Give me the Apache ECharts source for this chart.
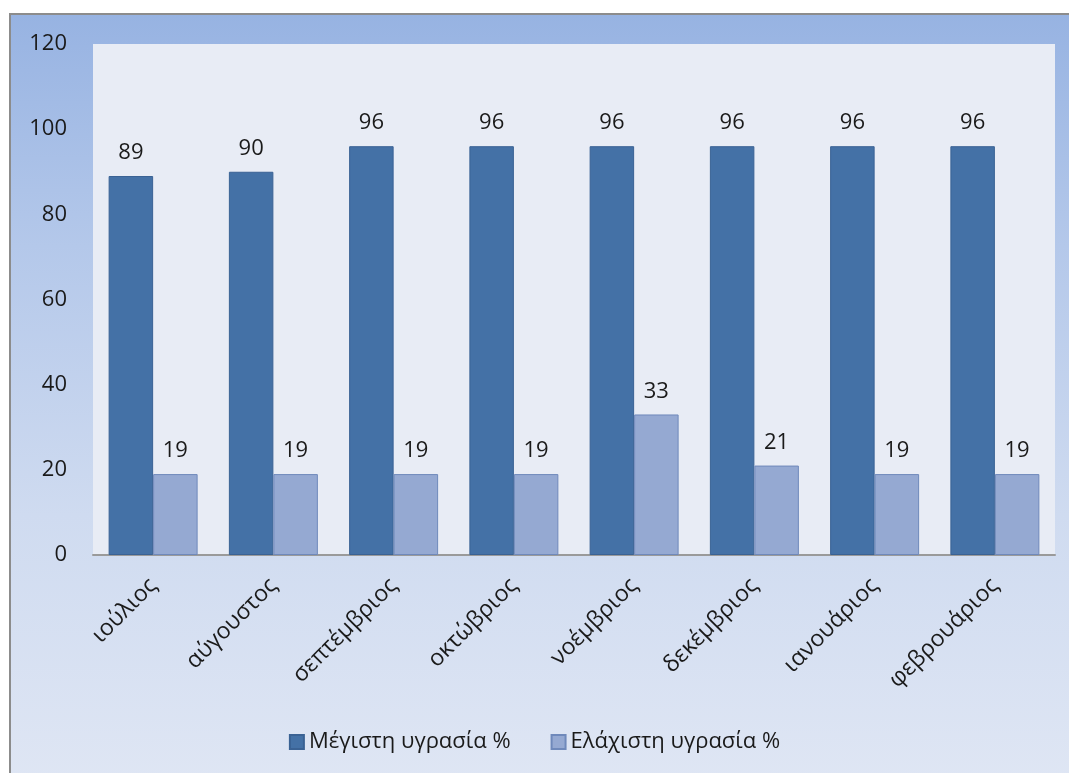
<!DOCTYPE html>
<html>
<head>
<meta charset="utf-8">
<script src="https://cdn.jsdelivr.net/npm/echarts@6/dist/echarts.min.js"></script>
<style>
  html, body { margin: 0; padding: 0; width: 1069px; height: 773px; overflow: hidden; background: #ffffff; }
  #frame {
    position: absolute; left: 9px; top: 13px; width: 1070px; height: 770px;
    border-left: 2px solid #8c8c8c; border-top: 2px solid #8c8c8c;
    background: linear-gradient(to bottom, #97b3e2 0%, #b4c8ea 30%, #cfdbf0 65%, #dfe6f4 100%);
  }
  #chart { position: absolute; left: 0; top: 0; width: 1069px; height: 773px; }
</style>
</head>
<body>
<div id="frame"></div>
<div id="chart"></div>
<script>
// Monthly humidity: maximum and minimum (%)
const months = ['ιούλιος', 'αύγουστος', 'σεπτέμβριος', 'οκτώβριος', 'νοέμβριος', 'δεκέμβριος', 'ιανουάριος', 'φεβρουάριος'];
const maxHumidity = [89, 90, 96, 96, 96, 96, 96, 96];
const minHumidity = [19, 19, 19, 19, 33, 21, 19, 19];
const seriesNames = ['Μέγιστη υγρασία %', 'Ελάχιστη υγρασία %'];

const FONT = '"Open Sans", "DejaVu Sans", sans-serif';
const chart = echarts.init(document.getElementById('chart'), null, { renderer: 'canvas' });

chart.setOption({
  backgroundColor: 'transparent',
  animation: false,
  grid: {
    left: 93, right: 14, top: 44, bottom: 218,
    show: true, backgroundColor: '#e8ecf5', borderWidth: 0
  },
  legend: {
    bottom: 15, left: 'center',
    icon: 'rect',
    itemWidth: 14, itemHeight: 14, itemGap: 40,
    textStyle: { fontFamily: FONT, fontSize: 22, color: '#1a1a1a' },
    data: seriesNames
  },
  xAxis: {
    type: 'category',
    data: months,
    axisLine: { lineStyle: { color: '#9a9a9a', width: 2 } },
    axisTick: { show: false },
    axisLabel: { rotate: 45, fontFamily: FONT, fontSize: 23, color: '#1a1a1a', margin: 27 }
  },
  yAxis: {
    type: 'value', min: 0, max: 120, interval: 20,
    axisLine: { show: false },
    axisTick: { show: false },
    splitLine: { show: false },
    axisLabel: { fontFamily: FONT, fontSize: 22, color: '#1a1a1a', margin: 26 }
  },
  series: [
    {
      name: seriesNames[0], type: 'bar', data: maxHumidity,
      barGap: '0%', barCategoryGap: '26%',
      itemStyle: { color: '#4471a6', borderColor: '#3a6294', borderWidth: 1 },
      label: { show: true, position: 'top', distance: 12, fontFamily: FONT, fontSize: 22, color: '#1a1a1a' }
    },
    {
      name: seriesNames[1], type: 'bar', data: minHumidity,
      barGap: '0%', barCategoryGap: '26%',
      itemStyle: { color: '#95a9d2', borderColor: '#6f89bb', borderWidth: 1 },
      label: { show: true, position: 'top', distance: 12, fontFamily: FONT, fontSize: 22, color: '#1a1a1a' }
    }
  ]
});
</script>
</body>
</html>
